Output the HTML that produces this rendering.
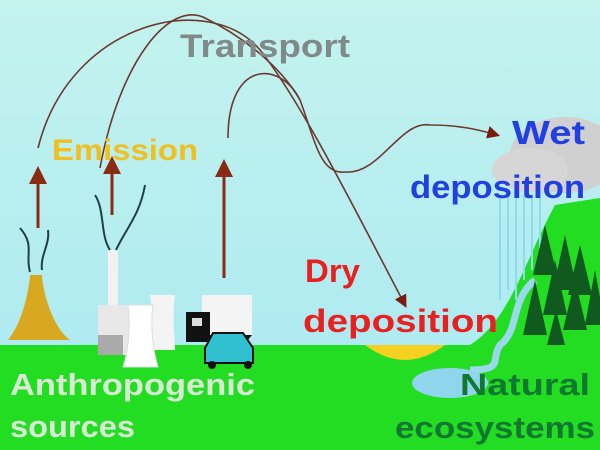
<!DOCTYPE html>
<html><head><style>
html,body{margin:0;padding:0;width:600px;height:450px;overflow:hidden}
svg text{font-family:"Liberation Sans",sans-serif;font-weight:bold}
</style></head><body>
<svg width="600" height="450" viewBox="0 0 600 450">
<defs>
<linearGradient id="sky" x1="0" y1="0" x2="0" y2="1"><stop offset="0" stop-color="#c4f3ee"/><stop offset="1" stop-color="#a8e8f2"/></linearGradient>
<marker id="ah" markerWidth="8" markerHeight="8" refX="6" refY="4" orient="auto"><path d="M0,0 L8,4 L0,8 z" fill="#7a1a10"/></marker>
<marker id="bh" markerWidth="6" markerHeight="6" refX="3" refY="3" orient="auto"><path d="M0,0 L6,3 L0,6 z" fill="#8a2a10"/></marker>
</defs>
<rect width="600" height="450" fill="url(#sky)"/>
<rect x="0" y="345" width="600" height="105" fill="#22dd22"/>
<path d="M470,345 C510,320 525,260 555,205 L600,198 L600,450 L470,450 z" fill="#22dd22"/>
<path d="M365,345 Q405,375 445,345 z" fill="#f5d020"/>
<ellipse cx="565" cy="155" rx="55" ry="38" fill="#d0d0d0"/>
<ellipse cx="530" cy="170" rx="38" ry="22" fill="#d6d6d6"/>
<g stroke="#8cdcf0" stroke-width="2"><line x1="500" y1="195" x2="500" y2="300"/><line x1="508" y1="195" x2="508" y2="290"/><line x1="516" y1="195" x2="516" y2="300"/><line x1="524" y1="195" x2="524" y2="280"/><line x1="532" y1="195" x2="532" y2="270"/><line x1="540" y1="195" x2="540" y2="250"/></g>
<path d="M535,280 C510,300 520,330 500,345 C490,360 505,370 470,370" stroke="#9ad8ec" stroke-width="7" fill="none"/>
<ellipse cx="450" cy="383" rx="38" ry="15" fill="#8fd6ec"/>
<g fill="#105a20">
<path d="M545,225 l12,50 h-24z"/><path d="M565,235 l12,55 h-24z"/><path d="M580,245 l12,50 h-24z"/><path d="M555,260 l12,55 h-24z"/><path d="M535,280 l12,55 h-24z"/><path d="M575,280 l12,50 h-24z"/><path d="M595,270 l10,55 h-20z"/><path d="M556,310 l9,35 h-18z"/>
</g>
<path d="M8,340 C25,320 30,280 30,275 L42,275 C42,285 50,325 70,340 z" fill="#d8a820"/>
<path d="M30,272 C25,255 35,245 20,228 M42,270 C40,255 50,245 48,230" stroke="#204040" stroke-width="2" fill="none"/>
<rect x="108" y="250" width="10" height="65" fill="#f2f2f2"/>
<path d="M110,250 C100,235 105,210 95,195 M116,250 C125,230 140,215 145,185" stroke="#204040" stroke-width="2" fill="none"/>
<rect x="98" y="305" width="45" height="50" fill="#e8e8e8"/><rect x="98" y="335" width="25" height="20" fill="#aaa"/>
<path d="M150,295 h25 c-3,20 0,45 0,55 h-25 c3,-15 3,-35 0,-55z" fill="#f4f4f4"/>
<path d="M128,305 h25 c-3,20 0,45 5,62 h-35 c5,-15 8,-40 5,-62z" fill="#ffffff" stroke="#ddd"/>
<rect x="202" y="295" width="50" height="40" fill="#f4f4f4"/>
<path d="M186,312 h24 v30 h-24z" fill="#111"/><rect x="192" y="318" width="10" height="8" fill="#ddd"/>
<path d="M202,335 h50 l-5,6 h-45z" fill="#111"/>
<path d="M205,348 l8,-15 h30 l10,15 v15 h-48z" fill="#30c0d0" stroke="#111" stroke-width="2"/>
<circle cx="212" cy="365" r="4" fill="#111"/><circle cx="248" cy="365" r="4" fill="#111"/>
<g stroke="#8a2a10" stroke-width="3" marker-end="url(#bh)">
<line x1="38" y1="228" x2="38" y2="175"/><line x1="112" y1="215" x2="112" y2="165"/><line x1="224" y1="278" x2="224" y2="168"/>
</g>
<g stroke="#6a3a30" stroke-width="1.6" fill="none">
<path d="M38,148 C70,20 210,-10 260,50 C300,100 350,200 405,305" marker-end="url(#ah)"/>
<path d="M100,168 C120,60 170,0 205,18 C240,35 280,65 300,100"/>
<path d="M228,138 C228,60 280,60 300,100 C315,140 320,175 345,172 C380,175 400,120 430,125 C460,125 480,130 497,135" marker-end="url(#ah)"/>
</g>
<g lengthAdjust="spacingAndGlyphs">
<text x="180" y="57" font-size="32" fill="#808a88" textLength="170" lengthAdjust="spacingAndGlyphs">Transport</text>
<text x="52" y="160" font-size="30" fill="#f0c020" textLength="146" lengthAdjust="spacingAndGlyphs">Emission</text>
<text x="512" y="144" font-size="33" fill="#2040e0" textLength="73" lengthAdjust="spacingAndGlyphs">Wet</text>
<text x="410" y="198" font-size="32" fill="#2040e0" textLength="175" lengthAdjust="spacingAndGlyphs">deposition</text>
<text x="305" y="282" font-size="32" fill="#e82020" textLength="55" lengthAdjust="spacingAndGlyphs">Dry</text>
<text x="303" y="332" font-size="32" fill="#e82020" textLength="195" lengthAdjust="spacingAndGlyphs">deposition</text>
<text x="10" y="395" font-size="31" fill="#d8ead4" textLength="245" lengthAdjust="spacingAndGlyphs">Anthropogenic</text>
<text x="10" y="437" font-size="31" fill="#d8ead4" textLength="125" lengthAdjust="spacingAndGlyphs">sources</text>
<text x="460" y="395" font-size="31" fill="#107830" textLength="130" lengthAdjust="spacingAndGlyphs">Natural</text>
<text x="395" y="438" font-size="31" fill="#107830" textLength="200" lengthAdjust="spacingAndGlyphs">ecosystems</text>
</g>
</svg>
</body></html>
